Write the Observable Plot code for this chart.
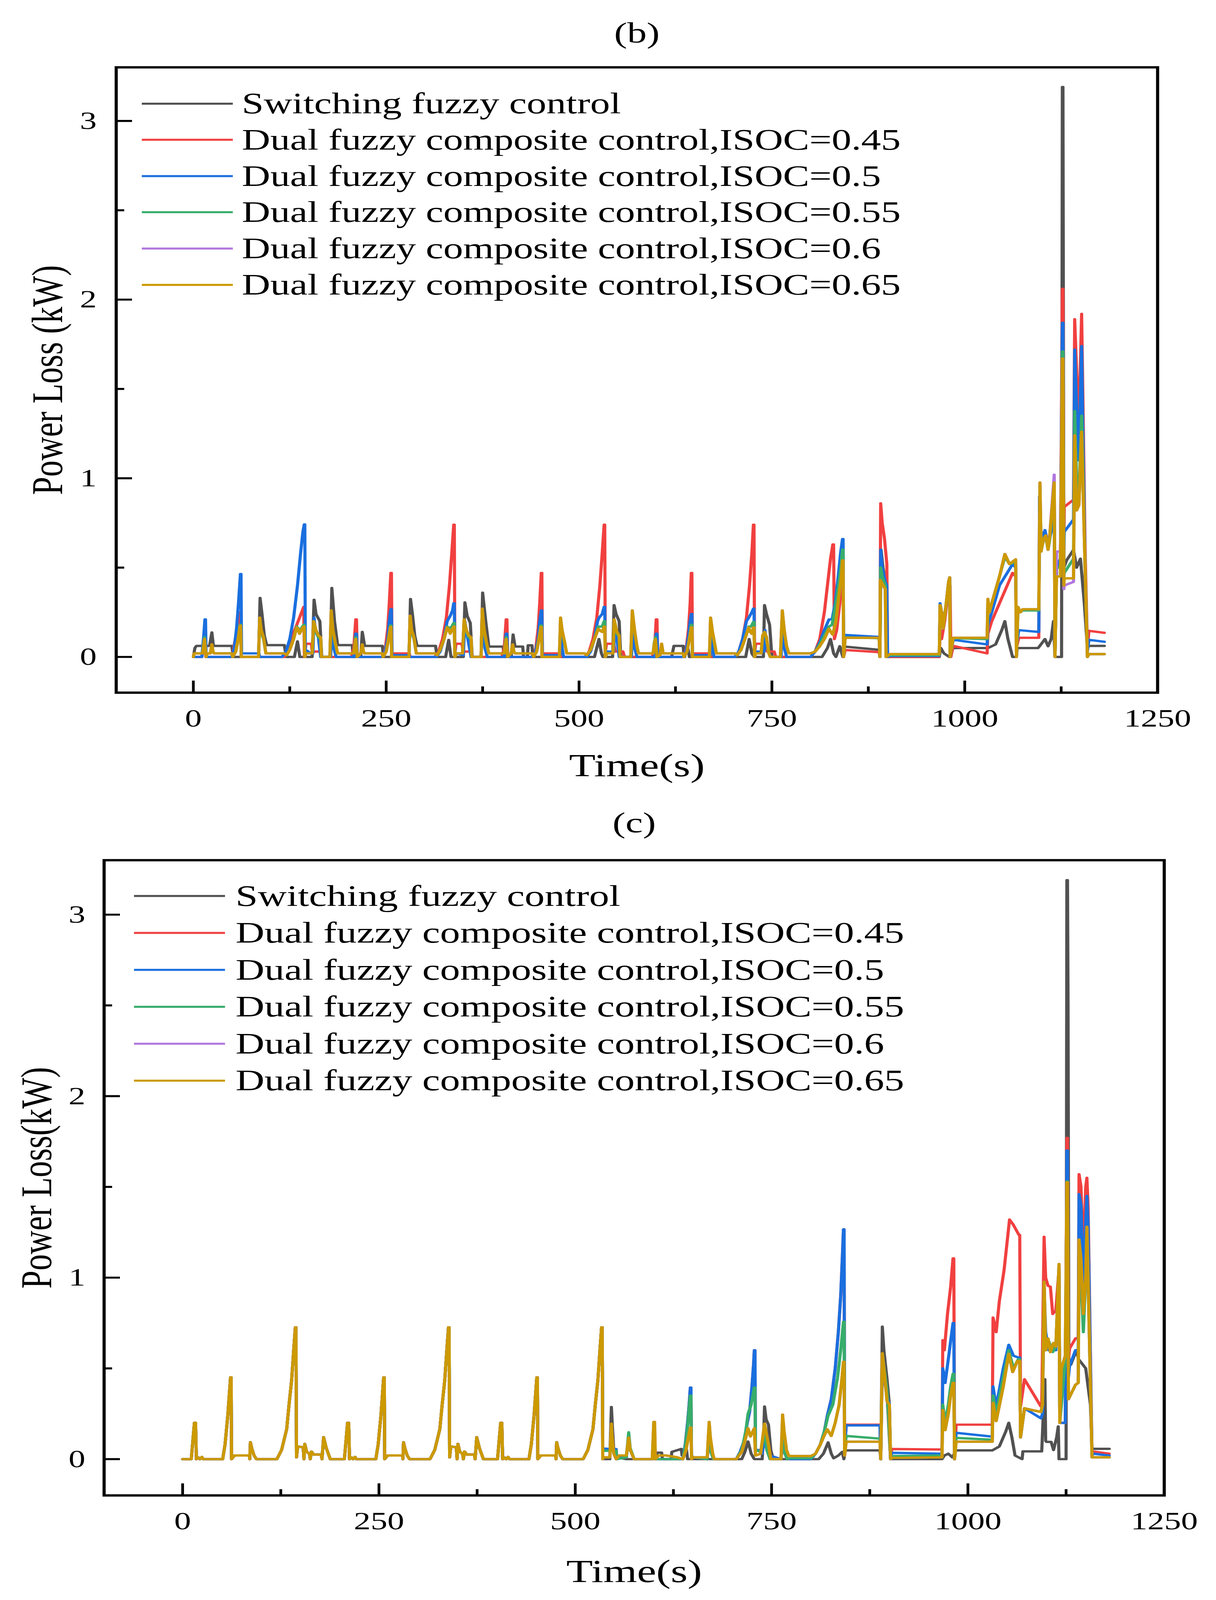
<!DOCTYPE html>
<html><head><meta charset="utf-8">
<script src="https://cdn.jsdelivr.net/npm/d3@7"></script>
<script src="https://cdn.jsdelivr.net/npm/@observablehq/plot@0.6"></script>
<style>
html,body{margin:0;padding:0;background:#fff;overflow:hidden;}
body{font-family:"Liberation Serif","Times New Roman",serif;}
#page{position:relative;width:3113px;height:5501px;transform-origin:0 0;background:#fff;}
.panel{position:relative;width:3113px;}
.row{position:absolute;display:flex;align-items:center;white-space:nowrap;color:#000;line-height:1;}
.sw{height:7px;flex:none;}
</style></head><body>
<div id="page">
<div id="b" class="panel"></div>
<div id="c" class="panel"></div>
</div>
<script>
// ---------- labels / ticks ----------
const seriesNames = ["Switching fuzzy control",
  "Dual fuzzy composite control,ISOC=0.45",
  "Dual fuzzy composite control,ISOC=0.5",
  "Dual fuzzy composite control,ISOC=0.55",
  "Dual fuzzy composite control,ISOC=0.6",
  "Dual fuzzy composite control,ISOC=0.65"];
const seriesColors = ["#515151","#F14040","#1A6FDF","#37AD6B","#B177DE","#CC9900"];
const xMajor = [0,250,500,750,1000,1250];
const xMinor = [125,375,625,875,1125];
const yMajor = [0,1,2,3];
const yMinor = [0.5,1.5,2.5];

// ---------- panel (b) data: [time s, power loss kW] ----------
const bGrey = [[0,0],[2,0.05],[4,0.062],[21,0.062],[24,0.137],[26,0.062],[50,0.062],[51.5,0],[84.5,0],[86.5,0.33],[89,0.24],[92,0.12],[95,0.066],[118,0.066],[120.5,0],[131,0],[135,0.087],[138,0],[154,0],[156.5,0.32],[159,0.24],[164,0.2],[166.5,0],[177.5,0],[179.5,0.386],[183,0.2],[187,0.066],
[206,0.066],[207,0],[217,0],[219,0.14],[222,0.062],[245,0.062],[246.5,0],[279.5,0],[281.5,0.324],[284,0.24],[287,0.12],[290,0.062],[314,0.062],[316,0],[327,0],[331,0.095],[334,0],[350,0],[352,0.305],[355,0.23],[359,0.19],[361.5,0],[373,0],[375,0.36],[379,0.2],[383,0.058],
[401.5,0.058],[403,0],[412,0],[414.5,0.125],[417,0.058],[427,0.058],[428,0],[433,0],[434,0.065],[439,0.065],[440,0],[474,0],[476,0.05],[478,0],[520,0],[525.8,0.1],[529,0.02],[531,0],[543.5,0],[545.4,0.29],[548,0.24],[552,0.2],[554,0],[620,0],[623,0.062],[635,0.062],[636,0],[637,0],[640,0.078],[643,0],[716,0],[720.5,0.1],[724,0.02],[727,0],[739,0],[740.4,0.29],[743,0.24],[747,0.18],[750,0],[815,0],[822,0.05],[826,0.1],[830,0.02],[833,0],[838,0.06],[842,0],[844,0.058],[889,0.04],[890,0],[891.5,0.6],[894,0.5],[898,0.4],[900,0],[967,0],[969,0.05],[973,0.02],[980,0],[985,0.05],[1030,0.05],[1040,0.07],[1048,0.15],[1052,0.2],[1056,0.1],[1062,0],[1067,0],[1068,0.05],[1095,0.05],[1097,0.06],[1104,0.1],[1108,0.06],[1112,0.1],[1115,0.2],[1117,0],[1125.5,0],[1126.5,3.19],[1127.3,3.19],[1128.5,0.5],[1132,0.54],[1141,0.6],[1145,0.5],[1150,0.55],[1155,0.3],[1159,0.05],[1161,0.062],[1181,0.062]];

const bRed = [[0,0],[11,0],[15,0.12],[16,0],[50,0],[61,0.25],[62,0],[118,0],[143,0.28],[144,0],[146,0.074],[153,0.074],[154,0.03],[165,0.03],[166,0],[205,0],
[208,0.05],[210.5,0.21],[211.5,0.21],[212.5,0],[246,0],[249,0.05],[252,0.16],[254,0.3],[256,0.47],[256.8,0.47],[257.5,0.02],[280,0.02],[281,0],[313,0],[318,0.03],[323,0.1],[328,0.22],[332,0.4],[335,0.58],[337.5,0.74],[338.3,0.74],[339,0.02],[340.5,0.074],[348,0.074],[350,0.03],[360,0.03],[362,0],[400,0],
[403,0.05],[405.5,0.21],[406.5,0.21],[407.5,0],[441,0],[444,0.05],[447,0.16],[449,0.3],[451,0.47],[451.8,0.47],[452.5,0.02],[475,0.02],[476,0],[508,0],[513,0.03],[518,0.1],[523,0.22],[527,0.4],[530,0.58],[532.5,0.74],[533.3,0.74],[534,0.02],[535.5,0.074],[545,0.074],[547,0.03],[557,0.03],[559,0],[595,0],
[598,0.05],[600,0.21],[601,0.21],[602,0],[636,0],[639,0.05],[642,0.16],[644,0.3],[645.5,0.47],[646.3,0.47],[647,0.02],[670,0.02],[671,0],[702,0],[707,0.03],[712,0.1],[717,0.22],[721,0.4],[724,0.58],[726,0.74],[726.8,0.74],[727.5,0.02],[729,0.074],[742,0.074],[744,0.03],[753,0.03],[755,0],[800,0],[806,0.03],[812,0.1],[818,0.25],[822,0.4],[826,0.55],[829,0.63],[830,0.63],[831,0.1],[834,0.15],[838,0.3],[841,0.5],[842,0.55],[843,0],[845,0.039],[889,0.027],[890,0],[891,0.86],[893,0.75],[896,0.66],[899,0.52],[900,0],[967,0],[968,0.15],[970,0.1],[974,0.2],[978,0.35],[981,0.4],[982,0],[985,0.062],[1029,0.02],[1030,0.13],[1035,0.2],[1045,0.3],[1055,0.4],[1062,0.47],[1066,0.45],[1067,0.05],[1070,0.107],[1096,0.107],[1097,0.9],[1099,0.6],[1104,0.7],[1108,0.65],[1112,0.7],[1116,0.95],[1117,0],[1119,0.5],[1124,0.55],[1126.5,2.06],[1127.3,2.06],[1128.5,0.6],[1129,0.84],[1141,0.88],[1142.5,1.89],[1145,1.6],[1148,1.3],[1151.5,1.92],[1153,1.5],[1156,0.6],[1159,0.05],[1161,0.146],[1181,0.135]];

const bBlue = [[0,0],[11,0],[13.5,0.12],[15,0.21],[15.8,0.21],[16.5,0],[50,0],[53,0.05],[56,0.16],[58.5,0.3],[61,0.464],[61.8,0.464],[62.5,0.02],[85,0.02],[86,0],[115,0],[120,0.03],[125,0.1],[130,0.22],[135,0.4],[139,0.58],[142,0.7],[143.8,0.742],[144.5,0.742],[145.2,0.02],[147,0.036],[152,0.02],[155,0.02],[156.5,0.22],[158,0.15],[162,0.11],[165,0],[178,0],[179.5,0.2],[182,0.05],[185,0],[208,0],
[210.5,0.13],[211.5,0.13],[212.5,0],[246,0],[249,0.04],[252,0.1],[254,0.2],[256,0.267],[256.8,0.267],[257.5,0.01],[280,0.01],[281,0],[315,0],[320,0.03],[325,0.1],[329,0.2],[333,0.23],[336,0.26],[337.5,0.3],[338.3,0.3],[339,0.02],[341,0.02],[350,0.01],[352,0.2],[355,0.12],[360,0],[373,0],[375,0.2],[378,0.05],[381,0],[403,0],
[405.5,0.13],[406.5,0.13],[407.5,0],[441,0],[444,0.04],[447,0.1],[449,0.2],[451,0.26],[451.8,0.26],[452.5,0.01],[475,0.01],[476,0.15],[478,0.05],[480,0],[510,0],[515,0.03],[520,0.1],[524,0.2],[526,0.22],[530,0.24],[532.5,0.28],[533.3,0.28],[534,0.01],[536,0.03],[545,0.03],[546,0.2],[549,0.1],[552,0],[568,0],[569,0.2],[572,0.05],[575,0],[598,0],
[600,0.13],[601,0.13],[602,0],[636,0],[639,0.04],[642,0.12],[644,0.2],[645.5,0.24],[646.3,0.24],[647,0.01],[670,0.01],[671,0.15],[673,0.05],[675,0],[702,0],[707,0.03],[712,0.1],[717,0.2],[720,0.22],[724,0.25],[726,0.27],[726.8,0.27],[727.5,0.01],[729,0.03],[740,0.03],[741,0.15],[744,0.05],[748,0],[762,0],[763.5,0.2],[766,0.05],[769,0],[800,0],[806,0.03],[812,0.08],[818,0.15],[824,0.21],[828,0.21],[832,0.3],[836,0.45],[839,0.58],[841.5,0.66],[842.3,0.66],[843,0],[845,0.123],[889,0.112],[890,0],[891,0.6],[893,0.5],[897,0.42],[899,0.4],[900,0],[903,0.005],[967,0.005],[968,0.3],[970,0.25],[972,0.16],[976,0.3],[979,0.42],[980.5,0.445],[981,0],[985,0.096],[1029,0.07],[1030,0.18],[1035,0.25],[1045,0.4],[1055,0.47],[1062,0.52],[1066,0.5],[1067,0.06],[1070,0.15],[1096,0.14],[1097,0.9],[1099,0.65],[1104,0.71],[1108,0.62],[1112,0.7],[1116,0.95],[1117,0],[1119,0.5],[1124,0.55],[1126.5,1.87],[1127.3,1.87],[1128.5,0.6],[1129,0.7],[1141,0.77],[1142.5,1.72],[1145,1.4],[1148,1.1],[1151.5,1.74],[1153,1.3],[1156,0.5],[1159,0.03],[1161,0.096],[1181,0.085]];

const bGreen = [[0,0],[1,0.02],[12,0.02],[13.5,0.08],[14.5,0.11],[15.5,0.05],[16.5,0],[18,0.02],[22,0.02],[24,0.06],[25.5,0.03],[27,0.02],[50,0.02],[51,0],[55,0.03],[58,0.1],[60.5,0.18],[61.3,0.18],[62,0],[84.5,0],[86,0.2],[88,0.14],[91,0.1],[94,0.02],[118,0.02],[121,0.01],[125,0.04],[130,0.1],[134,0.17],[136,0.16],[137.6,0.15],[140,0.16],[143,0.18],[143.8,0.18],[144.5,0],[146,0.02],[154,0.02],[156,0.19],[159,0.14],[162,0.11],[165,0.1],[166,0],[177,0],[178.7,0.25],[181,0.14],[184,0.07],[187,0.02],[205,0.02],
[208,0.02],[209.5,0.08],[210.5,0.11],[211.5,0.05],[212.5,0],[217,0.02],[219,0.06],[220.5,0.03],[222,0.02],[245,0.02],[246,0],[250,0.03],[253,0.1],[255.5,0.176],[256.3,0.176],[257,0],[279.5,0],[281,0.21],[283,0.14],[286,0.1],[289,0.02],[313,0.02],[316,0.01],[320,0.04],[325,0.1],[329,0.17],[332,0.16],[335,0.17],[337.5,0.19],[338.3,0.19],[339,0],[341,0.02],[349,0.02],[351,0.2],[354,0.14],[357,0.11],[360,0.1],[361,0],[373,0],[374.5,0.25],[377,0.14],[380,0.07],[383,0.02],[400,0.02],
[403,0.02],[404.5,0.08],[405.5,0.11],[406.5,0.05],[407.5,0],[412,0.02],[414,0.06],[415.5,0.03],[417,0.02],[440,0.02],[441,0],[445,0.03],[448,0.1],[450.5,0.176],[451.3,0.176],[452,0],[474.5,0],[476,0.2],[478,0.14],[481,0.08],[484,0.02],[507,0.02],[510,0.01],[515,0.04],[520,0.1],[525,0.17],[528,0.17],[530,0.17],[532.5,0.2],[533.3,0.2],[534,0],[536,0.02],[544,0.02],[545.5,0.2],[549,0.13],[552,0.11],[553,0],[567,0],[569,0.24],[572,0.14],[575,0.06],[577,0.02],[596,0.02],
[597.5,0.08],[599,0.11],[600,0.05],[601,0],[605,0.01],[607,0.06],[609,0.02],[612,0.02],[635,0.02],[636,0],[640,0.03],[643,0.1],[645.5,0.18],[646.3,0.18],[647,0],[669,0],[670.5,0.2],[673,0.13],[676,0.06],[678,0.02],[702,0.02],[705,0.01],[710,0.04],[715,0.1],[720,0.17],[723,0.17],[726,0.196],[726.8,0.196],[727.5,0],[729,0.02],[736,0.02],[738,0.11],[740.5,0.14],[743,0.1],[746,0.02],[748,0],[761,0],[763.5,0.24],[766,0.14],[769,0.06],[772,0.02],[800,0.02],[806,0.03],[812,0.07],[818,0.12],[824,0.17],[828,0.18],[833,0.3],[837,0.42],[840,0.52],[841.5,0.6],[842.3,0.6],[843,0],[845,0.11],[889,0.105],[890,0],[891,0.5],[893,0.45],[897,0.4],[898,0],[903,0.01],[967,0.01],[968,0.29],[970,0.25],[972,0.16],[976,0.3],[979,0.42],[980.5,0.445],[981,0],[985,0.105],[1029,0.1],[1030,0.3],[1032,0.25],[1035,0.3],[1045,0.45],[1052,0.56],[1058,0.52],[1066,0.53],[1067,0],[1069,0.26],[1072,0.25],[1075,0.26],[1096,0.26],[1097.5,0.96],[1099,0.6],[1102,0.65],[1105,0.67],[1108,0.6],[1110,0.65],[1116,0.96],[1117,0],[1119,0.5],[1124,0.5],[1126.5,1.71],[1127.3,1.71],[1128.5,0.45],[1129,0.47],[1141,0.55],[1142.5,1.376],[1145,1.0],[1148,0.9],[1151.5,1.35],[1153,1.1],[1156,0.5],[1159,0],[1161,0.016],[1181,0.016]];

// ISOC=0.6 and 0.65 coincide up to t=1096 s
const bGoldHead = [[0,0],[1,0.02],[12,0.02],[13.5,0.07],[14.5,0.1],[15.5,0.05],[16.5,0],[18,0.02],[22,0.02],[24,0.07],[25.5,0.03],[27,0.02],[50,0.02],[51,0],[55,0.03],[58,0.1],[60.5,0.175],[61.3,0.175],[62,0],[84.5,0],[86,0.22],[88,0.15],[91,0.11],[94,0.02],[118,0.02],[121,0.01],[125,0.04],[130,0.1],[134,0.165],[136,0.155],[137.6,0.13],[140,0.15],[143,0.17],[143.8,0.17],[144.5,0],[146,0.02],[154,0.02],[156,0.2],[159,0.15],[162,0.12],[165,0.11],[166,0],[177,0],[178.7,0.26],[181,0.15],[184,0.08],[187,0.02],[205,0.02],
[208,0.02],[209.5,0.07],[210.5,0.1],[211.5,0.05],[212.5,0],[217,0.02],[219,0.07],[220.5,0.03],[222,0.02],[245,0.02],[246,0],[250,0.03],[253,0.1],[255.5,0.168],[256.3,0.168],[257,0],[279.5,0],[281,0.23],[283,0.15],[286,0.11],[289,0.02],[313,0.02],[316,0.01],[320,0.04],[325,0.1],[329,0.165],[331,0.155],[333,0.13],[335,0.15],[337.5,0.17],[338.3,0.17],[339,0],[341,0.02],[349,0.02],[351,0.21],[354,0.15],[357,0.12],[360,0.11],[361,0],[373,0],[374.5,0.27],[377,0.15],[380,0.08],[383,0.02],[400,0.02],
[403,0.02],[404.5,0.07],[405.5,0.1],[406.5,0.05],[407.5,0],[412,0.02],[414,0.07],[415.5,0.03],[417,0.02],[440,0.02],[441,0],[445,0.03],[448,0.1],[450.5,0.168],[451.3,0.168],[452,0],[474.5,0],[476,0.22],[478,0.15],[481,0.09],[484,0.02],[507,0.02],[510,0.01],[515,0.04],[520,0.1],[525,0.157],[528,0.145],[530,0.14],[532.5,0.17],[533.3,0.17],[534,0],[536,0.02],[544,0.02],[545.5,0.21],[549,0.14],[552,0.12],[553,0],[567,0],[569,0.26],[572,0.15],[575,0.06],[577,0.02],[596,0.02],
[597.5,0.07],[599,0.1],[600,0.05],[601,0],[605,0.01],[607,0.074],[609,0.02],[612,0.02],[635,0.02],[636,0],[640,0.03],[643,0.1],[645.5,0.165],[646.3,0.165],[647,0],[669,0],[670.5,0.22],[673,0.14],[676,0.07],[678,0.02],[702,0.02],[705,0.01],[710,0.04],[715,0.1],[720,0.165],[722,0.14],[724,0.13],[726,0.165],[726.8,0.165],[727.5,0],[729,0.02],[736,0.02],[738,0.12],[740.5,0.14],[743,0.11],[746,0.02],[748,0],[761,0],[763.5,0.26],[766,0.15],[769,0.06],[772,0.02],[800,0.02],[806,0.03],[812,0.06],[818,0.1],[824,0.157],[828,0.13],[829,0.125],[833,0.2],[837,0.35],[840,0.45],[841.5,0.54],[842.3,0.54],[843,0],[845,0.107],[889,0.107],[890,0],[890.5,0.43],[893,0.41],[897,0.38],[898,0],[903,0.016],[967,0.016],[968,0.29],[970,0.25],[972,0.16],[976,0.3],[979,0.42],[980.5,0.445],[981,0],[985,0.107],[1029,0.107],[1030,0.325],[1032,0.25],[1035,0.3],[1045,0.45],[1052,0.576],[1058,0.52],[1066,0.546],[1067,0],[1069,0.28],[1072,0.25],[1075,0.267],[1096,0.267]];
const bPurpleTail = [[1097.5,0.976],[1099,0.59],[1102,0.66],[1105,0.68],[1108,0.6],[1110,0.67],[1116,1.02],[1117,0],[1119,0.59],[1124,0.59],[1126.5,1.67],[1127.3,1.67],[1128.5,0.38],[1129,0.4],[1141,0.42],[1142.5,1.24],[1145,0.82],[1148,0.85],[1151.5,1.26],[1153,1.0],[1156,0.5],[1159,0],[1161,0.016],[1181,0.016]];
const bGoldTail = [[1097.5,0.976],[1099,0.59],[1102,0.66],[1105,0.68],[1108,0.6],[1110,0.67],[1116,0.976],[1117,0],[1119,0.45],[1124,0.45],[1126.5,1.67],[1127.3,1.67],[1128.5,0.4],[1129,0.44],[1141,0.44],[1142.5,1.24],[1145,0.82],[1148,0.85],[1151.5,1.26],[1153,1.0],[1156,0.5],[1159,0],[1161,0.016],[1181,0.016]];

// ---------- panel (c) data ----------
// all six curves coincide up to t≈534 s
const cCommon = [[0,0],[11,0],[13,0.1],[15,0.2],[16.5,0.2],[17.5,0],[20.5,0.008],[22,0],[24.5,0.012],[26,0],[51,0],[54,0.08],[57.5,0.24],[59.5,0.36],[61,0.45],[61.8,0.45],[62.3,0],[66,0.02],[85,0.02],[85.5,0],[86.3,0.093],[88,0.06],[91,0.02],[94,0],[120,0],[126,0.05],[132.5,0.165],[135.5,0.3],[138.8,0.435],[141.4,0.6],[143.5,0.726],[144.3,0.726],[145,0.01],[146.5,0.07],[153.5,0.065],[154.5,0],[155.5,0.084],[158,0.04],[161.5,0.03],[162.5,0],[164,0.042],[167,0.025],[176.5,0.025],[177.5,0],[179.5,0.121],[183,0.06],[188,0],
[206,0],[208,0.1],[210,0.2],[211.5,0.2],[212.5,0],[215.5,0.008],[217,0],[219.5,0.012],[221,0],[246,0],[249,0.08],[252.5,0.24],[254.5,0.36],[256,0.45],[256.8,0.45],[257.3,0],[261,0.02],[280,0.02],[280.5,0],[281.3,0.093],[283,0.06],[286,0.02],[289,0],[315,0],[321,0.05],[327.5,0.165],[330.5,0.3],[333.8,0.435],[336.4,0.6],[338.5,0.726],[339.3,0.726],[340,0.01],[341.5,0.07],[348.5,0.065],[349.5,0],[350.5,0.084],[353,0.04],[356.5,0.03],[357.5,0],[359,0.042],[362,0.025],[371.5,0.025],[372.5,0],[374.5,0.121],[378,0.06],[383,0],
[401,0],[403,0.1],[405,0.2],[406.5,0.2],[407.5,0],[410.5,0.008],[412,0],[414.5,0.012],[416,0],[441,0],[444,0.08],[447.5,0.24],[449.5,0.36],[451,0.45],[451.8,0.45],[452.3,0],[456,0.02],[475,0.02],[475.5,0],[476.3,0.093],[478,0.06],[481,0.02],[484,0],[510,0],[516,0.05],[522.5,0.165],[525.5,0.3],[528.8,0.435],[531.4,0.6],[533.5,0.726],[534.3,0.726]];

const cGreyTail = [[535,0],[544,0],[545,0.15],[546,0.287],[547,0.2],[549,0.05],[552,0.01],[565,0],[603,0],[604,0.036],[610,0.036],[611,0],[622,0],[623,0.04],[635,0.056],[636,0.02],[641,0.077],[643,0],[712,0],[716,0.04],[720,0.097],[724,0.03],[728,0],[738,0],[740,0.15],[741,0.29],[743,0.22],[746,0.19],[749,0.05],[752,0],[810,0],[816,0.03],[822,0.092],[826,0.03],[829,0.005],[835,0.02],[840,0.04],[842,0],[844,0.048],[888,0.048],[889,0],[891,0.73],[893,0.6],[897,0.44],[900,0.3],[901.5,0],[967,0],[970,0.02],[975,0.03],[980,0.01],[985,0.048],[1031,0.048],[1040,0.07],[1048,0.15],[1052,0.2],[1056,0.12],[1060,0.02],[1069,0],[1070,0.043],[1094,0.043],[1096,0.25],[1098,0.44],[1099,0.1],[1100,0.095],[1106,0.095],[1109,0.05],[1113,0.12],[1115,0.18],[1116,0],[1125,0],[1126,3.19],[1126.8,3.19],[1127.5,2.5],[1128.5,0.55],[1131,0.52],[1138,0.6],[1141,0.55],[1150,0.5],[1156,0.3],[1158,0.06],[1160,0.057],[1180,0.057]];
// ISOC=0.45 and 0.5 coincide between 534 s and 843 s
const cBlueMid = [[535,0.058],[552,0.055],[553,0],[556,0.02],[565,0.01],[568,0.12],[570,0.05],[575,0],[598,0],[600,0.1],[602,0],[637,0],[640,0.08],[643,0.2],[645,0.3],[646.5,0.394],[647.3,0.394],[648,0.02],[650,0.01],[668,0],[670,0.12],[672,0.05],[676,0],[705,0],[710,0.04],[715,0.1],[719,0.2],[722,0.26],[725,0.4],[727,0.52],[728,0.6],[728.8,0.6],[729.5,0.05],[736,0.05],[738,0.03],[741,0.12],[744,0.05],[748,0.02],[762,0],[764,0.12],[767,0.03],[770,0],[800,0],[806,0.03],[812,0.08],[817,0.15],[821,0.24],[826,0.33],[831,0.5],[835,0.7],[838,0.9],[840,1.1],[841.5,1.266],[842.3,1.266],[843,0.05]];
const cRedEnd = [[845,0.19],[888,0.19],[889,0],[891,0.55],[897,0.35],[901.5,0],[903,0.056],[967,0.053],[968,0.655],[970,0.6],[974,0.8],[978,0.95],[981,1.106],[982,1.106],[983,0],[985,0.19],[1031,0.19],[1032,0.78],[1036,0.7],[1040,0.87],[1046,1.04],[1053,1.32],[1058,1.29],[1065,1.235],[1066,1.235],[1067,0.29],[1072,0.44],[1093,0.29],[1094,0.3],[1097,1.225],[1099,1.0],[1102,0.955],[1105,0.95],[1108,0.8],[1112,0.82],[1116,1.05],[1117,0.2],[1124,0.2],[1126,1.77],[1126.8,1.77],[1128,0.55],[1129.5,0.61],[1137,0.665],[1140.5,0.67],[1141.5,1.57],[1144,1.5],[1147,1.1],[1150,1.5],[1151.5,1.55],[1153,1.4],[1158,0.02],[1160,0.042],[1180,0.03]];
const cBlueEnd = [[845,0.186],[888,0.186],[889,0],[891,0.55],[893,0.45],[897,0.35],[900,0.3],[901.5,0],[903,0.035],[967,0.03],[968,0.5],[971,0.42],[975,0.55],[978,0.65],[981,0.75],[982,0.75],[983,0],[985,0.145],[1031,0.124],[1032,0.4],[1036,0.29],[1045,0.5],[1052,0.63],[1058,0.57],[1064,0.56],[1066,0.56],[1067,0.12],[1072,0.28],[1093,0.225],[1095,0.25],[1097,0.95],[1099,0.7],[1103,0.6],[1108,0.62],[1112,0.6],[1116,1.05],[1117,0.2],[1124,0.2],[1126,1.7],[1126.8,1.7],[1128,0.45],[1129.5,0.515],[1137,0.6],[1140.5,0.6],[1141.5,1.46],[1144,1.4],[1147,0.95],[1150,1.3],[1151.5,1.45],[1153,1.3],[1158,0.02],[1160,0.03],[1180,0.02]];
const cGreenTail = [[535,0.046],[552,0.046],[553,0],[565,0.01],[568,0.148],[570,0.06],[575,0],[598,0],[600,0.12],[602,0],[637,0],[640,0.07],[643,0.18],[645,0.28],[646.5,0.35],[647.3,0.35],[648,0.02],[650,0.01],[668,0],[670,0.15],[672,0.05],[676,0],[705,0],[712,0.05],[717,0.15],[720,0.25],[724,0.3],[728,0.394],[728.8,0.394],[729.5,0.05],[736,0.04],[741,0.15],[744,0.05],[748,0],[762,0],[764,0.15],[767,0.03],[770,0],[773,0.005],[800,0.005],[806,0.03],[812,0.08],[817,0.15],[822,0.24],[828,0.3],[834,0.45],[838,0.6],[841.5,0.757],[842.3,0.757],[843,0.05],[845,0.128],[888,0.113],[889,0],[891,0.58],[897,0.38],[901.5,0],[903,0.017],[967,0.02],[968,0.3],[971,0.2],[975,0.3],[978,0.4],[981,0.47],[982,0.47],[983,0],[985,0.117],[1031,0.107],[1032,0.35],[1036,0.25],[1045,0.45],[1052,0.6],[1058,0.5],[1064,0.55],[1066,0.55],[1067,0.12],[1072,0.28],[1093,0.26],[1095,0.3],[1097,0.977],[1099,0.6],[1103,0.65],[1108,0.59],[1112,0.62],[1116,1.075],[1117,0.2],[1124,0.55],[1126,1.53],[1126.8,1.53],[1128,0.33],[1129.5,0.343],[1137,0.41],[1140.5,0.42],[1141.5,1.08],[1144,1.0],[1147,0.7],[1150,1.0],[1151.5,1.28],[1153,1.0],[1158,0.01],[1180,0.01]];
// ISOC=0.6 lies under ISOC=0.65 over the whole run
const cGoldTail = [[535,0],[536,0.01],[544,0.01],[545,0.1],[546,0.195],[547,0.12],[549,0.03],[552,0],[556,0.02],[565,0.02],[568,0.118],[570,0.05],[575,0],[598,0],[600,0.205],[601,0.205],[602,0],[606,0.02],[616,0.02],[630,0.01],[637,0],[641,0.05],[644,0.12],[646.5,0.174],[647.3,0.174],[648,0],[650,0.01],[668,0.01],[670.5,0.205],[672,0.12],[675,0.03],[677,0],[705,0],[712,0.04],[716,0.1],[720,0.17],[723,0.125],[728,0.17],[729.5,0.02],[736,0.03],[741,0.195],[743,0.15],[746,0.08],[749,0],[762,0],[764,0.245],[766,0.15],[769,0.05],[772,0.017],[800,0.017],[806,0.03],[812,0.08],[817,0.13],[821,0.164],[826,0.128],[831,0.2],[836,0.3],[839,0.42],[841.5,0.537],[842.3,0.537],[843,0.02],[845,0.096],[888,0.096],[889,0],[891,0.583],[893,0.5],[897,0.32],[900,0.3],[901.5,0],[903,0.007],[967,0.01],[968,0.27],[971,0.16],[975,0.25],[978,0.35],[981,0.42],[982,0.42],[983,0],[985,0.096],[1031,0.096],[1032,0.31],[1036,0.21],[1045,0.4],[1052,0.58],[1057,0.48],[1063,0.54],[1066,0.54],[1067,0.12],[1072,0.28],[1093,0.26],[1095,0.3],[1097,0.977],[1099,0.6],[1102,0.665],[1105,0.59],[1109,0.64],[1112,0.62],[1116,1.075],[1117,0.2],[1119,0.5],[1124,0.57],[1126,1.525],[1126.8,1.525],[1128,0.33],[1129.5,0.343],[1137,0.41],[1140.5,0.42],[1141.5,1.21],[1144,1.1],[1147,0.8],[1150,1.0],[1151.5,1.28],[1153,1.0],[1158,0.01],[1180,0.01]];

const panelB = [bGrey, bRed, bBlue, bGreen, bGoldHead.concat(bPurpleTail), bGoldHead.concat(bGoldTail)];
const panelC = [cCommon.concat(cGreyTail), cCommon.concat(cBlueMid, cRedEnd), cCommon.concat(cBlueMid, cBlueEnd),
  cCommon.concat(cGreenTail), cCommon.concat(cGoldTail), cCommon.concat(cGoldTail)];

function drawPanel(id, data, L) {
  const W = 3113, H = L.height;
  const plotW = W - L.ml - L.mr, plotH = H - L.mt - L.mb;
  const chart = Plot.plot({
    width: W, height: H,
    marginLeft: L.ml, marginRight: L.mr, marginTop: L.mt, marginBottom: L.mb,
    style: {fontFamily: '"Liberation Serif", "Times New Roman", serif', color: "#000", background: "#fff", overflow: "visible"},
    x: {domain: [-100, 1250]},
    y: {domain: [-0.2, 3.3]},
    marks: [
      ...data.map((s, i) => Plot.line(s, {x: d => d[0], y: d => d[1], stroke: seriesColors[i], strokeWidth: 8, strokeLinejoin: "round", strokeLinecap: "round"})),
      Plot.tickX(xMajor, {x: d => d, insetTop: plotH - 41, strokeWidth: 7, stroke: "#000"}),
      Plot.tickX(xMinor, {x: d => d, insetTop: plotH - 21, strokeWidth: 7, stroke: "#000"}),
      Plot.tickY(yMajor, {y: d => d, insetRight: plotW - 41, strokeWidth: 7, stroke: "#000"}),
      Plot.tickY(yMinor, {y: d => d, insetRight: plotW - 21, strokeWidth: 7, stroke: "#000"}),
      Plot.axisX({ticks: xMajor, tickSize: 0, tickPadding: L.xpad, fontSize: 86, tickFormat: d => String(d), label: null}),
      Plot.axisY({ticks: yMajor, tickSize: 0, tickPadding: L.ypad, fontSize: 86, tickFormat: d => String(d), label: null}),
      Plot.frame({stroke: "#000", strokeWidth: 8}),
      Plot.text([L.title], {frameAnchor: "top", dy: -L.titleDy, fontSize: 100, lineAnchor: "middle", textAnchor: "middle", text: d => d}),
      Plot.text(["Time(s)"], {frameAnchor: "bottom", dy: L.xTitleDy, fontSize: 111, lineAnchor: "middle", textAnchor: "middle", text: d => d}),
      Plot.text([L.yTitle], {frameAnchor: "left", dx: -L.yTitleDx, rotate: -90, fontSize: 112, lineAnchor: "middle", textAnchor: "middle", text: d => d})
    ]
  });
  const el = document.getElementById(id);
  el.style.height = H + "px";
  el.appendChild(chart);
  seriesNames.forEach((name, i) => {
    const row = document.createElement("div");
    row.className = "row";
    row.style.left = L.legX + "px";
    row.style.top = (L.legY0 + i * L.legDy - 60) + "px";
    row.style.height = "120px";
    row.style.fontSize = L.legFont + "px";
    const sw = document.createElement("div");
    sw.className = "sw";
    sw.style.width = L.swW + "px";
    sw.style.background = seriesColors[i];
    sw.style.marginRight = L.swGap + "px";
    const tx = document.createElement("span");
    tx.textContent = name;
    row.appendChild(sw); row.appendChild(tx);
    el.appendChild(row);
  });
}

drawPanel("b", panelB, {height: 2750, ml: 297, mr: 150, mt: 231, mb: 369, xpad: 55, ypad: 50,
  title: "(b)", titleDy: 117, xTitleDy: 251, yTitle: "Power Loss (kW)", yTitleDx: 174,
  legX: 363, legY0: 356, legDy: 124.6, swW: 233, swGap: 23, legFont: 101});
drawPanel("c", panelC, {height: 2751, ml: 266, mr: 133, mt: 207, mb: 360, xpad: 55, ypad: 48,
  title: "(c)", titleDy: 128, xTitleDy: 262, yTitle: "Power Loss(kW)", yTitleDx: 171,
  legX: 343, legY0: 330, legDy: 127, swW: 233, swGap: 27, legFont: 102.5});

// The window may be shorter than the 5501 px figure: fit the figure's height to it.
const sy = Math.min(1, window.innerHeight / 5501);
document.getElementById("page").style.transform = "scale(1," + sy + ")";
</script>
</body></html>
